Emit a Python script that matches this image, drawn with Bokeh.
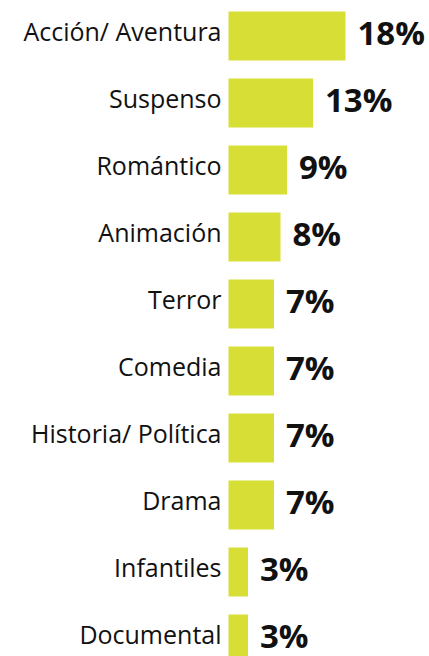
from bokeh.plotting import figure
from bokeh.models import Range1d, ColumnDataSource
from bokeh.core.properties import value
from bokeh.embed import file_html
from bokeh.resources import INLINE

categories = ["Acción/ Aventura", "Suspenso", "Romántico", "Animación", "Terror",
              "Comedia", "Historia/ Política", "Drama", "Infantiles", "Documental"]
values = [18, 13, 9, 8, 7, 7, 7, 7, 3, 3]
value_labels = [f"{v}%" for v in values]

W, H = 429, 656
PX_PER_UNIT = 6.5     # pixels per percent
ZERO_PX = 228         # pixel position of bar base inside figure
ROW_PX = 67
FIRST_CENTER_PX = 35.5

ys = list(range(len(categories)))
src = ColumnDataSource(dict(y=ys, v=values, cat=categories, lab=value_labels))

p = figure(width=W, height=H, output_backend="svg", toolbar_location=None,
           min_border=0, min_border_left=0, min_border_right=0,
           min_border_top=0, min_border_bottom=0)
p.x_range = Range1d(-ZERO_PX / PX_PER_UNIT, (W - ZERO_PX) / PX_PER_UNIT)
p.y_range = Range1d((H - FIRST_CENTER_PX) / ROW_PX, -FIRST_CENTER_PX / ROW_PX)
p.axis.visible = False
p.grid.visible = False
p.outline_line_color = None
p.background_fill_color = "white"
p.border_fill_color = "white"

p.hbar(y="y", left=0, right="v", height=49 / ROW_PX, source=src,
       fill_color="#d7df36", line_color=None)

p.text(x=0, y="y", text="cat", source=src, text_align="right",
       text_baseline="middle", x_offset=-7, y_offset=-5,
       text_font=value("Open Sans"), text_font_size="25px", text_color="#111111")

p.text(x="v", y="y", text="lab", source=src, text_align="left",
       text_baseline="middle", x_offset=12, y_offset=-4,
       text_font=value("Open Sans"), text_font_style="bold",
       text_font_size="33px", text_color="#111111")

open("out.html", "w").write(file_html(p, INLINE))
